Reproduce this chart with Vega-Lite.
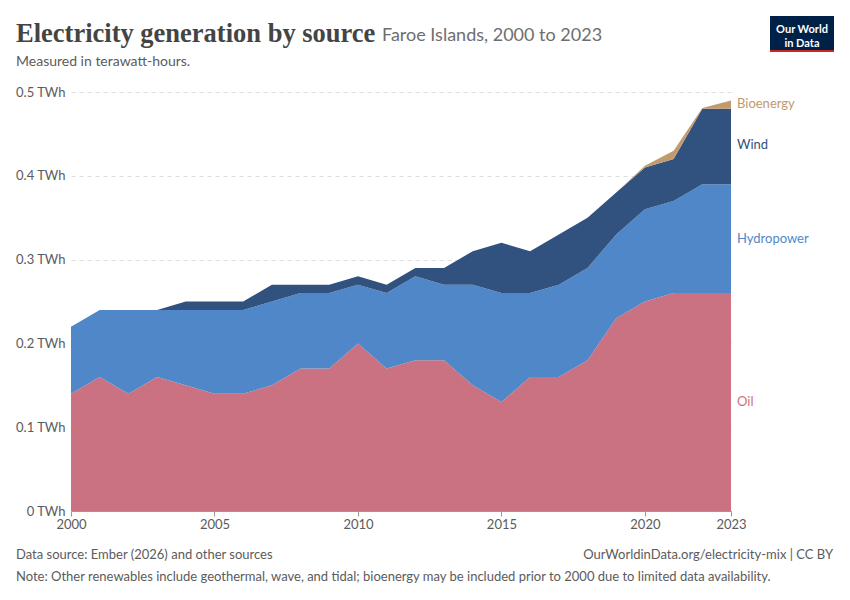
{
  "$schema": "https://vega.github.io/schema/vega-lite/v6.json",
  "width": 660,
  "height": 419,
  "autosize": {"type": "none"},
  "padding": {"left": 71, "top": 92, "right": 119, "bottom": 89},
  "background": "white",
  "config": {"font": "Lato", "view": {"stroke": null}},
  "data": {"values": [
    {"year":2000,"source":"Oil","v":0.14},{"year":2001,"source":"Oil","v":0.16},{"year":2002,"source":"Oil","v":0.14},{"year":2003,"source":"Oil","v":0.16},{"year":2004,"source":"Oil","v":0.15},{"year":2005,"source":"Oil","v":0.14},{"year":2006,"source":"Oil","v":0.14},{"year":2007,"source":"Oil","v":0.15},{"year":2008,"source":"Oil","v":0.17},{"year":2009,"source":"Oil","v":0.17},{"year":2010,"source":"Oil","v":0.20},{"year":2011,"source":"Oil","v":0.17},{"year":2012,"source":"Oil","v":0.18},{"year":2013,"source":"Oil","v":0.18},{"year":2014,"source":"Oil","v":0.15},{"year":2015,"source":"Oil","v":0.13},{"year":2016,"source":"Oil","v":0.16},{"year":2017,"source":"Oil","v":0.16},{"year":2018,"source":"Oil","v":0.18},{"year":2019,"source":"Oil","v":0.23},{"year":2020,"source":"Oil","v":0.25},{"year":2021,"source":"Oil","v":0.26},{"year":2022,"source":"Oil","v":0.26},{"year":2023,"source":"Oil","v":0.26},
    {"year":2000,"source":"Hydropower","v":0.08},{"year":2001,"source":"Hydropower","v":0.08},{"year":2002,"source":"Hydropower","v":0.10},{"year":2003,"source":"Hydropower","v":0.08},{"year":2004,"source":"Hydropower","v":0.09},{"year":2005,"source":"Hydropower","v":0.10},{"year":2006,"source":"Hydropower","v":0.10},{"year":2007,"source":"Hydropower","v":0.10},{"year":2008,"source":"Hydropower","v":0.09},{"year":2009,"source":"Hydropower","v":0.09},{"year":2010,"source":"Hydropower","v":0.07},{"year":2011,"source":"Hydropower","v":0.09},{"year":2012,"source":"Hydropower","v":0.10},{"year":2013,"source":"Hydropower","v":0.09},{"year":2014,"source":"Hydropower","v":0.12},{"year":2015,"source":"Hydropower","v":0.13},{"year":2016,"source":"Hydropower","v":0.10},{"year":2017,"source":"Hydropower","v":0.11},{"year":2018,"source":"Hydropower","v":0.11},{"year":2019,"source":"Hydropower","v":0.10},{"year":2020,"source":"Hydropower","v":0.11},{"year":2021,"source":"Hydropower","v":0.11},{"year":2022,"source":"Hydropower","v":0.13},{"year":2023,"source":"Hydropower","v":0.13},
    {"year":2000,"source":"Wind","v":0},{"year":2001,"source":"Wind","v":0},{"year":2002,"source":"Wind","v":0},{"year":2003,"source":"Wind","v":0},{"year":2004,"source":"Wind","v":0.01},{"year":2005,"source":"Wind","v":0.01},{"year":2006,"source":"Wind","v":0.01},{"year":2007,"source":"Wind","v":0.02},{"year":2008,"source":"Wind","v":0.01},{"year":2009,"source":"Wind","v":0.01},{"year":2010,"source":"Wind","v":0.01},{"year":2011,"source":"Wind","v":0.01},{"year":2012,"source":"Wind","v":0.01},{"year":2013,"source":"Wind","v":0.02},{"year":2014,"source":"Wind","v":0.04},{"year":2015,"source":"Wind","v":0.06},{"year":2016,"source":"Wind","v":0.05},{"year":2017,"source":"Wind","v":0.06},{"year":2018,"source":"Wind","v":0.06},{"year":2019,"source":"Wind","v":0.05},{"year":2020,"source":"Wind","v":0.05},{"year":2021,"source":"Wind","v":0.05},{"year":2022,"source":"Wind","v":0.09},{"year":2023,"source":"Wind","v":0.09},
    {"year":2000,"source":"Bioenergy","v":0},{"year":2019,"source":"Bioenergy","v":0},{"year":2020,"source":"Bioenergy","v":0.002},{"year":2021,"source":"Bioenergy","v":0.01},{"year":2022,"source":"Bioenergy","v":0.001},{"year":2023,"source":"Bioenergy","v":0.01}
  ]},
  "transform": [
    {"calculate": "indexof(['Oil','Hydropower','Wind','Bioenergy'], datum.source)", "as": "ord"},
    {"stack": "v", "groupby": ["year"], "sort": [{"field": "ord", "order": "ascending"}], "as": ["y0", "y1"]}
  ],
  "layer": [
    {
      "mark": {"type": "area", "opacity": 1},
      "encoding": {
        "x": {"field": "year", "type": "quantitative", "scale": {"domain": [2000, 2023], "nice": false, "zero": false},
          "axis": {"values": [2000, 2005, 2010, 2015, 2020, 2023], "format": "d", "title": null, "grid": false, "labelFontSize": 13, "labelColor": "#5b5b5b", "domainColor": "#999", "tickColor": "#999", "labelFlush": false}},
        "y": {"field": "y1", "type": "quantitative", "scale": {"domain": [0, 0.5]},
          "axis": {"values": [0, 0.1, 0.2, 0.3, 0.4, 0.5], "labelExpr": "datum.value + ' TWh'", "title": null, "domain": false, "ticks": false, "gridDash": [4, 4], "gridColor": "#ddd", "labelFontSize": 13, "labelColor": "#5b5b5b", "labelPadding": 6}},
        "y2": {"field": "y0"},
        "color": {"field": "source", "type": "nominal", "legend": null,
          "scale": {"domain": ["Oil", "Hydropower", "Wind", "Bioenergy"], "range": ["#ca7281", "#5087c8", "#31527e", "#c19a6e"]}},
        "order": {"field": "ord"}
      }
    },
    {
      "transform": [{"filter": "datum.year == 2023"}, {"calculate": "datum.source == 'Bioenergy' ? 0.486 : datum.source == 'Wind' ? 0.437 : (datum.y0 + datum.y1) / 2", "as": "ym"}],
      "mark": {"type": "text", "align": "left", "dx": 6, "fontSize": 13},
      "encoding": {
        "x": {"field": "year", "type": "quantitative"},
        "y": {"field": "ym", "type": "quantitative"},
        "text": {"field": "source"},
        "color": {"field": "source", "type": "nominal", "legend": null,
          "scale": {"domain": ["Oil", "Hydropower", "Wind", "Bioenergy"], "range": ["#b5465f", "#2f6db5", "#1d3a63", "#b08050"]}}
      }
    },
    {
      "data": {"values": [{"t": "Electricity generation by source"}]},
      "mark": {"type": "text", "align": "left", "baseline": "alphabetic", "fontSize": 26.5, "font": "Liberation Serif", "fontWeight": "bold", "color": "#444"},
      "encoding": {"x": {"value": -55}, "y": {"value": -50}, "text": {"field": "t"}}
    },
    {
      "data": {"values": [{"t": "Faroe Islands, 2000 to 2023"}]},
      "mark": {"type": "text", "align": "left", "baseline": "alphabetic", "fontSize": 18, "color": "#6e6e6e"},
      "encoding": {"x": {"value": 311}, "y": {"value": -51}, "text": {"field": "t"}}
    },
    {
      "data": {"values": [{"t": "Measured in terawatt-hours."}]},
      "mark": {"type": "text", "align": "left", "baseline": "alphabetic", "fontSize": 14, "color": "#5b5b5b"},
      "encoding": {"x": {"value": -55}, "y": {"value": -26}, "text": {"field": "t"}}
    },
    {
      "data": {"values": [{"t": "Data source: Ember (2026) and other sources"}]},
      "mark": {"type": "text", "align": "left", "fontSize": 13, "color": "#5b5b5b"},
      "encoding": {"x": {"value": -55}, "y": {"value": 463}, "text": {"field": "t"}}
    },
    {
      "data": {"values": [{"t": "OurWorldinData.org/electricity-mix | CC BY"}]},
      "mark": {"type": "text", "align": "right", "fontSize": 13, "color": "#5b5b5b"},
      "encoding": {"x": {"value": 762}, "y": {"value": 463}, "text": {"field": "t"}}
    },
    {
      "data": {"values": [{"t": "Note: Other renewables include geothermal, wave, and tidal; bioenergy may be included prior to 2000 due to limited data availability."}]},
      "mark": {"type": "text", "align": "left", "fontSize": 13, "color": "#5b5b5b"},
      "encoding": {"x": {"value": -55}, "y": {"value": 485}, "text": {"field": "t"}}
    },
    {
      "data": {"values": [{"a": 1}]},
      "mark": {"type": "rect", "color": "#002147"},
      "encoding": {"x": {"value": 699}, "x2": {"value": 763}, "y": {"value": -76}, "y2": {"value": -40}}
    },
    {
      "data": {"values": [{"a": 1}]},
      "mark": {"type": "rect", "color": "#ce261e"},
      "encoding": {"x": {"value": 699}, "x2": {"value": 763}, "y": {"value": -42}, "y2": {"value": -40}}
    },
    {
      "data": {"values": [{"t": "Our World", "y": -62}, {"t": "in Data", "y": -48}]},
      "mark": {"type": "text", "align": "center", "fontSize": 11, "color": "white", "fontWeight": "bold"},
      "encoding": {"x": {"value": 731}, "y": {"field": "y", "type": "quantitative", "scale": null}, "text": {"field": "t"}}
    }
  ]
}
